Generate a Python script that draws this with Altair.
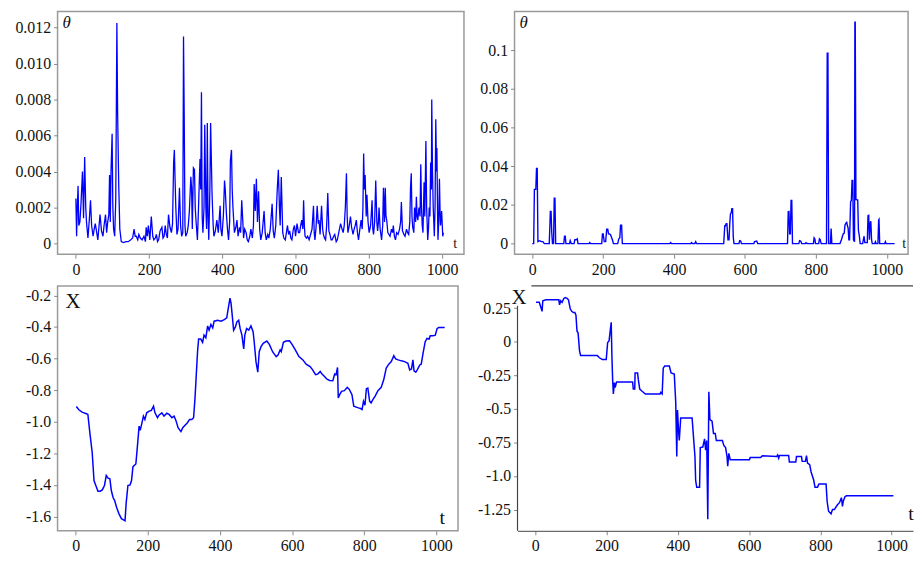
import altair as alt
import pandas as pd

# ---------------- data ----------------
x_ticks = [0, 200, 400, 600, 800, 1000]
x_labels = ["0", "200", "400", "600", "800", "1000"]

tl_yticks = [0, 0.002, 0.004, 0.006, 0.008, 0.010, 0.012]
tl_ylabels = ["0", "0.002", "0.004", "0.006", "0.008", "0.010", "0.012"]
tr_yticks = [0, 0.02, 0.04, 0.06, 0.08, 0.1]
tr_ylabels = ["0", "0.02", "0.04", "0.06", "0.08", "0.1"]
bl_yticks = [-0.2, -0.4, -0.6, -0.8, -1.0, -1.2, -1.4, -1.6]
bl_ylabels = ["-0.2", "-0.4", "-0.6", "-0.8", "-1.0", "-1.2", "-1.4", "-1.6"]
br_yticks = [0.25, 0, -0.25, -0.5, -0.75, -1.0, -1.25]
br_ylabels = ["0.25", "0", "-0.25", "-0.5", "-0.75", "-1.0", "-1.25"]

# top-left: theta
tl_t = [0, 2, 4, 6, 8, 11, 14, 18, 21, 24, 27, 29, 33, 37, 40, 43, 47, 50, 53, 57,
        60, 63, 66, 70, 74, 77, 81, 84, 87, 90, 92, 94, 96, 99, 101, 103, 106, 109, 112, 114,
        117, 120, 124, 130, 137, 143, 150, 155, 159, 162, 165, 169, 172, 176, 181, 186, 190, 192, 195, 198,
        202, 206, 210, 213, 217, 220, 223, 226, 230, 235, 238, 241, 244, 247, 250, 253, 257, 261, 264, 267,
        269, 271, 273, 276, 279, 283, 286, 289, 292, 294, 296, 298, 300, 304, 307, 310, 314, 316, 318, 321,
        324, 326, 328, 332, 335, 339, 341, 343, 345, 347, 350, 352, 355, 357, 359, 361, 363, 366, 368, 372,
        375, 377, 381, 385, 389, 394, 396, 399, 403, 406, 408, 411, 414, 417, 420, 422, 425, 427, 429, 433,
        437, 440, 443, 447, 450, 453, 456, 458, 461, 465, 468, 471, 475, 478, 482, 485, 487, 490, 493, 496,
        499, 502, 505, 509, 514, 517, 520, 524, 527, 531, 536, 539, 542, 546, 550, 553, 556, 558, 561, 565,
        568, 572, 575, 578, 581, 584, 587, 590, 594, 597, 600, 604, 608, 611, 614, 617, 620, 622, 624, 626,
        630, 633, 637, 641, 645, 649, 651, 653, 656, 659, 662, 664, 667, 671, 674, 676, 679, 682, 685, 688,
        691, 694, 697, 700, 704, 707, 711, 714, 718, 723, 727, 730, 733, 736, 739, 741, 743, 746, 750, 753,
        757, 760, 763, 766, 769, 772, 775, 779, 782, 784, 786, 788, 790, 793, 795, 798, 801, 805, 809, 811,
        813, 816, 819, 822, 824, 826, 828, 831, 835, 838, 840, 843, 845, 847, 849, 852, 855, 858, 862, 865,
        867, 870, 873, 876, 880, 884, 887, 889, 892, 896, 899, 903, 906, 909, 912, 914, 916, 918, 920, 923,
        925, 928, 930, 932, 934, 937, 940, 942, 944, 946, 948, 951, 953, 956, 958, 961, 963, 965, 967, 969,
        971, 972, 974, 976, 979, 981, 983, 985, 986, 988, 989, 991, 993, 995, 996, 999, 1002, 1004]
tl_v = [0.0025, 0.0004, 0.0021, 0.0032, 0.0010, 0.0012, 0.0022, 0.0040, 0.0014, 0.0048,
        0.0020, 0.0012, 0.0003, 0.0014, 0.0024, 0.0010, 0.0004, 0.0008, 0.0011, 0.0006,
        0.0002, 0.0009, 0.0016, 0.0007, 0.0004, 0.0010, 0.0016, 0.0006, 0.0012, 0.0016,
        0.0038, 0.0012, 0.0040, 0.0061, 0.0020, 0.0008, 0.0004, 0.0025, 0.01226, 0.0073,
        0.0033, 0.0008, 0.0001, 0.00005, 0.0001, 0.0001, 0.0002, 0.0003, 0.0008, 0.0004,
        0.0004, 0.0002, 0.0005, 0.0003, 0.0002, 0.0004, 0.0001, 0.0009, 0.0004, 0.0010,
        0.0002, 0.0015, 0.0004, 0.0002, 0.0003, 0.0005, 0.0001, 0.0002, 0.0007, 0.0009,
        0.0003, 0.0004, 0.0010, 0.0005, 0.0003, 0.0016, 0.0009, 0.0006, 0.0011, 0.0045,
        0.0052, 0.0035, 0.0020, 0.0005, 0.0008, 0.0031, 0.0010, 0.0004, 0.0006, 0.0115,
        0.0069, 0.0010, 0.0004, 0.0006, 0.0010, 0.0018, 0.0037, 0.0031, 0.0008, 0.0042,
        0.0041, 0.0020, 0.0013, 0.0002, 0.0020, 0.0047, 0.0030, 0.0084, 0.0015, 0.0006,
        0.0020, 0.0066, 0.0020, 0.0008, 0.0067, 0.0015, 0.0002, 0.0030, 0.0067, 0.0027,
        0.0010, 0.0004, 0.0007, 0.0013, 0.0006, 0.0021, 0.0008, 0.0004, 0.0016, 0.0035,
        0.0030, 0.0017, 0.0008, 0.0002, 0.0012, 0.0046, 0.0052, 0.0030, 0.0020, 0.0006,
        0.0009, 0.0013, 0.0004, 0.0009, 0.0006, 0.0024, 0.0012, 0.0003, 0.0008, 0.0006,
        0.0002, 0.0001, 0.0004, 0.0008, 0.0003, 0.0010, 0.0033, 0.0018, 0.0036, 0.0012,
        0.0029, 0.0008, 0.0002, 0.0006, 0.0018, 0.0006, 0.0002, 0.0005, 0.0003, 0.0008,
        0.0022, 0.0007, 0.0003, 0.0010, 0.0030, 0.0041, 0.0020, 0.0010, 0.0037, 0.0006,
        0.0003, 0.0002, 0.0006, 0.0010, 0.0005, 0.0007, 0.0003, 0.0002, 0.0008, 0.0010,
        0.0004, 0.0011, 0.0006, 0.0006, 0.0010, 0.0013, 0.0008, 0.0024, 0.0010, 0.0004,
        0.0003, 0.0004, 0.0002, 0.0005, 0.0008, 0.0021, 0.0006, 0.0002, 0.0009, 0.0021,
        0.0011, 0.0013, 0.0005, 0.0021, 0.0008, 0.0005, 0.0003, 0.0002, 0.0010, 0.0028,
        0.0007, 0.0005, 0.0002, 0.0002, 0.0004, 0.0005, 0.0001, 0.0002, 0.0006, 0.0011,
        0.0008, 0.0006, 0.0010, 0.0020, 0.0039, 0.0015, 0.0006, 0.0009, 0.0015, 0.0009,
        0.0005, 0.0008, 0.0010, 0.0013, 0.0006, 0.0002, 0.0007, 0.0013, 0.0008, 0.0020,
        0.0050, 0.0030, 0.0038, 0.0015, 0.0027, 0.0012, 0.0006, 0.0010, 0.0024, 0.0008,
        0.0005, 0.0012, 0.0035, 0.0012, 0.0007, 0.0011, 0.0020, 0.0008, 0.0002, 0.0010,
        0.0031, 0.0012, 0.0031, 0.0015, 0.0013, 0.0006, 0.0005, 0.0004, 0.0008, 0.0006,
        0.0010, 0.0004, 0.0002, 0.0006, 0.0005, 0.0008, 0.0012, 0.0023, 0.0007, 0.0005,
        0.0004, 0.0008, 0.0006, 0.0005, 0.0012, 0.0031, 0.0039, 0.0015, 0.0009, 0.0006,
        0.0020, 0.0012, 0.0026, 0.0015, 0.0013, 0.0020, 0.0015, 0.0044, 0.0020, 0.0010,
        0.0006, 0.0034, 0.0015, 0.0057, 0.0020, 0.0002, 0.0008, 0.0020, 0.0015, 0.0045,
        0.0030, 0.0080, 0.0040, 0.0020, 0.0004, 0.0020, 0.0069, 0.0040, 0.0053, 0.0015,
        0.0002, 0.0012, 0.0036, 0.0015, 0.0010, 0.0018, 0.0004, 0.0006]

# top-right: theta
tr_t = [0, 4, 6, 10, 12, 14, 16, 21, 26, 30, 34, 48, 51, 53, 55, 57, 60, 62, 64, 66,
        89, 91, 93, 95, 105, 107, 110, 118, 120, 124, 127, 129, 160, 162, 165, 196, 198, 200, 203, 207,
        210, 213, 215, 218, 221, 224, 226, 229, 241, 244, 247, 249, 252, 254, 388, 390, 393, 447, 449, 452,
        458, 461, 463, 540, 543, 545, 547, 549, 552, 555, 557, 559, 561, 563, 565, 567, 569, 583, 585, 588,
        590, 625, 627, 633, 636, 720, 722, 724, 726, 728, 730, 732, 734, 752, 754, 757, 760, 770, 772, 776,
        793, 795, 797, 799, 808, 810, 812, 815, 830, 832, 834, 836, 841, 843, 845, 868, 872, 877, 880, 882,
        885, 887, 889, 891, 893, 895, 898, 900, 902, 904, 906, 909, 910, 911, 913, 916, 918, 920, 922, 925,
        932, 934, 936, 938, 945, 947, 949, 951, 953, 955, 957, 959, 966, 968, 970, 975, 977, 978, 980, 994,
        996, 998, 1022]
tr_v = [0, 0, 0.028, 0.028, 0.0388, 0.0388, 0.001, 0.0015, 0.001, 0.001, 0, 0, 0.0166, 0.0166, 0.0057, 0, 0, 0.0235, 0.0235, 0,
        0, 0.0038, 0.0038, 0, 0, 0.0015, 0, 0, 0.002, 0.002, 0.0025, 0, 0, 0.0005, 0, 0, 0.005, 0.005, 0.001, 0.001,
        0.0074, 0.0074, 0.005, 0.005, 0.0045, 0.003, 0.002, 0, 0, 0.0024, 0.003, 0.0095, 0.0095, 0, 0, 0.0005, 0, 0, 0.0005, 0,
        0, 0.001, 0, 0, 0.0092, 0.0092, 0.0103, 0.0103, 0.002, 0.002, 0.010, 0.0153, 0.0158, 0.018, 0.018, 0.0032, 0, 0, 0.0015, 0.0013,
        0, 0, 0.001, 0.0013, 0, 0, 0.0165, 0.0166, 0.005, 0.005, 0.0223, 0.0223, 0, 0, 0.0015, 0.0013, 0, 0, 0.0005, 0,
        0, 0.003, 0.0025, 0, 0, 0.0025, 0.0022, 0, 0, 0.0984, 0.0984, 0, 0, 0.0078, 0, 0, 0.002, 0.005, 0.0054, 0.0095,
        0.0107, 0.011, 0.0092, 0.008, 0.002, 0.002, 0.0217, 0.0223, 0.0327, 0.0327, 0.002, 0.001, 0.1144, 0.1144, 0.0228, 0.0226, 0.0226, 0.0068, 0.0047, 0,
        0, 0.002, 0.0038, 0.0005, 0.0005, 0.0144, 0.0146, 0.002, 0.0104, 0.0116, 0.002, 0, 0, 0.001, 0, 0, 0.0122, 0.0125, 0, 0,
        0.001, 0, 0]

# bottom-left: X
bl_t = [2, 9, 18, 30, 34, 40, 46, 51, 55, 62, 68, 74, 80, 85, 90, 95, 99, 104, 108, 114,
        120, 127, 134, 137, 140, 145, 151, 155, 159, 167, 171, 176, 179, 183, 188, 192, 197, 204, 210, 216,
        220, 227, 231, 239, 245, 253, 259, 267, 273, 278, 284, 292, 297, 304, 310, 316, 322, 327, 331, 334,
        338, 341, 347, 352, 356, 361, 366, 370, 375, 380, 384, 394, 403, 412, 419, 423, 428, 431, 435, 438,
        443, 447, 452, 456, 461, 466, 469, 474, 480, 486, 492, 495, 500, 505, 509, 514, 520, 530, 537, 546,
        556, 561, 567, 570, 576, 583, 593, 600, 609, 619, 630, 639, 650, 657, 665, 671, 678, 683, 690, 696,
        704, 713, 718, 722, 726, 728, 732, 737, 745, 753, 759, 766, 771, 778, 784, 790, 794, 798, 802, 806,
        810, 815, 819, 824, 831, 838, 847, 854, 861, 868, 875, 882, 887, 894, 903, 912, 921, 926, 931, 935,
        938, 943, 947, 954, 958, 963, 969, 974, 980, 983, 991, 997, 1002, 1007, 1014, 1023]
bl_v = [-0.903, -0.924, -0.939, -0.949, -0.953, -1.079, -1.194, -1.372, -1.397, -1.439,
        -1.439, -1.431, -1.403, -1.340, -1.357, -1.361, -1.435, -1.481, -1.497, -1.544,
        -1.581, -1.613, -1.623, -1.627, -1.518, -1.403, -1.399, -1.372, -1.284, -1.267,
        -1.163, -1.027, -1.054, -1.016, -0.964, -0.985, -0.943, -0.932, -0.928, -0.901,
        -0.943, -0.974, -0.958, -0.943, -0.964, -0.945, -0.953, -0.974, -0.964, -0.991,
        -1.037, -1.062, -1.037, -1.020, -1.006, -0.985, -0.985, -0.974, -0.849, -0.723,
        -0.556, -0.476, -0.476, -0.497, -0.451, -0.468, -0.393, -0.420, -0.384, -0.405,
        -0.363, -0.357, -0.363, -0.353, -0.342, -0.284, -0.217, -0.252, -0.347, -0.420,
        -0.399, -0.367, -0.357, -0.409, -0.451, -0.539, -0.451, -0.409, -0.420, -0.393,
        -0.430, -0.493, -0.619, -0.686, -0.556, -0.524, -0.503, -0.489, -0.510, -0.556,
        -0.587, -0.577, -0.545, -0.556, -0.497, -0.489, -0.487, -0.510, -0.545, -0.587,
        -0.608, -0.635, -0.650, -0.671, -0.702, -0.698, -0.681, -0.698, -0.713, -0.729,
        -0.738, -0.740, -0.698, -0.702, -0.656, -0.849, -0.828, -0.807, -0.803, -0.782,
        -0.796, -0.828, -0.901, -0.907, -0.912, -0.916, -0.922, -0.870, -0.895, -0.790,
        -0.786, -0.870, -0.880, -0.859, -0.834, -0.803, -0.782, -0.734, -0.660, -0.635,
        -0.619, -0.581, -0.602, -0.608, -0.614, -0.619, -0.629, -0.671, -0.665, -0.608,
        -0.677, -0.686, -0.671, -0.640, -0.635, -0.566, -0.493, -0.472, -0.476, -0.455,
        -0.455, -0.451, -0.409, -0.403, -0.403, -0.403]

# bottom-right: X
br_t = [2, 11, 14, 19, 21, 30, 66, 68, 71, 75, 80, 84, 89, 93, 98, 102, 107, 111, 114, 117,
        120, 124, 127, 174, 179, 188, 199, 203, 207, 210, 213, 215, 217, 219, 222, 224, 228, 273, 275, 279,
        280, 287, 289, 293, 298, 309, 350, 352, 356, 359, 363, 376, 381, 390, 394, 397, 399, 402, 404, 408,
        440, 444, 448, 450, 453, 461, 463, 470, 475, 478, 481, 484, 487, 490, 496, 500, 505, 508, 525, 529,
        534, 538, 540, 543, 547, 601, 603, 632, 637, 677, 680, 683, 685, 711, 713, 731, 733, 747, 749, 758,
        761, 764, 770, 774, 781, 785, 792, 796, 816, 819, 823, 830, 834, 839, 848, 854, 859, 862, 864, 869,
        873, 1005]
br_v = [0.293, 0.293, 0.269, 0.226, 0.305, 0.312, 0.312, 0.274, 0.305, 0.293,
        0.322, 0.329, 0.322, 0.312, 0.245, 0.226, 0.217, 0.217, 0.197, 0.078,
        0.066, -0.066, -0.102, -0.102, -0.118, -0.133, -0.133, -0.006, 0.006, 0.078,
        0.145, -0.114, -0.281, -0.389, -0.305, -0.341, -0.300, -0.300, -0.353, -0.353,
        -0.233, -0.233, -0.281, -0.353, -0.365, -0.389, -0.389, -0.377, -0.389, -0.197,
        -0.181, -0.181, -0.233, -0.241, -0.449, -0.855, -0.508, -0.664, -0.736, -0.568,
        -0.568, -0.712, -0.855, -1.035, -1.083, -1.083, -0.788, -0.784, -0.724, -0.808,
        -0.736, -1.322, -0.372, -0.580, -0.592, -0.683, -0.683, -0.736, -0.736, -0.772,
        -0.788, -0.855, -0.927, -0.831, -0.879, -0.879, -0.862, -0.862, -0.850, -0.855,
        -0.843, -0.867, -0.848, -0.848, -0.896, -0.896, -0.855, -0.855, -0.891, -0.891,
        -0.848, -0.903, -0.915, -0.970, -1.028, -1.083, -1.083, -1.059, -1.059, -1.190,
        -1.262, -1.281, -1.250, -1.250, -1.214, -1.197, -1.161, -1.226, -1.190, -1.154,
        -1.147, -1.147]

# ---------------- chart ----------------
FONT = "Liberation Serif"
BLUE = "#0000ff"
X_DOMAIN = [-50, 1060]


def label_expr(ticks, labels):
    parts = [f"abs(datum.value - ({tk})) < 1e-9 ? '{lb}'" for tk, lb in zip(ticks, labels)]
    return " : ".join(parts) + " : ''"


def text_layer(s, x, y, size, italic=False, align="left", baseline="top"):
    props = dict(font=FONT, fontSize=size, align=align, baseline=baseline, color="#111111")
    if italic:
        props["fontStyle"] = "italic"
    return alt.Chart(pd.DataFrame({"s": [s]})).mark_text(**props).encode(
        text="s:N", x=alt.value(x), y=alt.value(y))


def panel(t, v, ydom, yticks, ylabels, minext, framed=True, sw=1.3):
    df = pd.DataFrame({"t": t, "v": v})
    common = dict(grid=False, title=None, labelFont=FONT, labelFontSize=16,
                  labelColor="#111111", tickColor="#888888", tickSize=4, labelPadding=3)
    xaxis = alt.Axis(values=x_ticks, labelExpr=label_expr(x_ticks, x_labels),
                     domain=not framed, domainColor="#444444", labelFlush=False, **common)
    yaxis = alt.Axis(values=yticks, labelExpr=label_expr(yticks, ylabels),
                     domain=False, minExtent=minext, **common)
    return alt.Chart(df).mark_line(color=BLUE, strokeWidth=sw).encode(
        x=alt.X("t:Q", scale=alt.Scale(domain=X_DOMAIN, nice=False, zero=False), axis=xaxis),
        y=alt.Y("v:Q", scale=alt.Scale(domain=ydom, nice=False, zero=False), axis=yaxis),
    )


TOP_H = 245
BOT_H = 247

tl_w = 410
tl = alt.layer(
    panel(tl_t, tl_v, [-0.0006, 0.0129], tl_yticks, tl_ylabels, 44, sw=1.3),
    text_layer("θ", 5, 4, 17, italic=True),
    text_layer("t", tl_w - 9, TOP_H - 10, 14, align="center", baseline="middle"),
).properties(width=tl_w, height=TOP_H)

tr_w = 397
tr = alt.layer(
    panel(tr_t, tr_v, [-0.0055, 0.12], tr_yticks, tr_ylabels, 40, sw=1.4),
    text_layer("θ", 5, 4, 17, italic=True),
    text_layer("t", tr_w - 4, TOP_H - 10, 14, align="center", baseline="middle"),
).properties(width=tr_w, height=TOP_H)

bl_w = 404
bl = alt.layer(
    panel(bl_t, bl_v, [-1.69, -0.14], bl_yticks, bl_ylabels, 39, sw=1.5),
    text_layer("X", 8, 5, 21),
    text_layer("t", bl_w - 16, BOT_H - 13, 20, align="center", baseline="middle"),
).properties(width=bl_w, height=BOT_H)

br_w = 399
frame_src = pd.DataFrame({"a": [0]})
br = alt.layer(
    panel(br_t, br_v, [-1.408, 0.415], br_yticks, br_ylabels, 41, framed=False, sw=1.5),
    alt.Chart(frame_src).mark_rule(color="#444444", strokeWidth=1.2).encode(
        x=alt.value(0), y=alt.value(20), y2=alt.value(BOT_H)),
    alt.Chart(frame_src).mark_rule(color="#444444", strokeWidth=1.2).encode(
        x=alt.value(14), x2=alt.value(br_w), y=alt.value(0)),
    text_layer("X", -6, 1, 21),
    text_layer("t", br_w - 2, BOT_H - 17, 20, align="center", baseline="middle"),
).properties(width=br_w, height=BOT_H, view=alt.ViewBackground(stroke="transparent"))

top = alt.hconcat(tl, tr, spacing=9)
bottom = alt.hconcat(bl, br, spacing=17)

chart = (
    alt.vconcat(top, bottom, spacing=6)
    .properties(
        padding={"left": 5, "top": 0, "right": 0, "bottom": 0},
        background="white",
    )
    .configure(font=FONT)
    .configure_axis(labelFont=FONT, labelFontSize=16)
    .configure_view(stroke="#9a9a9a", strokeWidth=1.5)
)

chart.save("out.html", embed_options={"renderer": "svg", "actions": False})
